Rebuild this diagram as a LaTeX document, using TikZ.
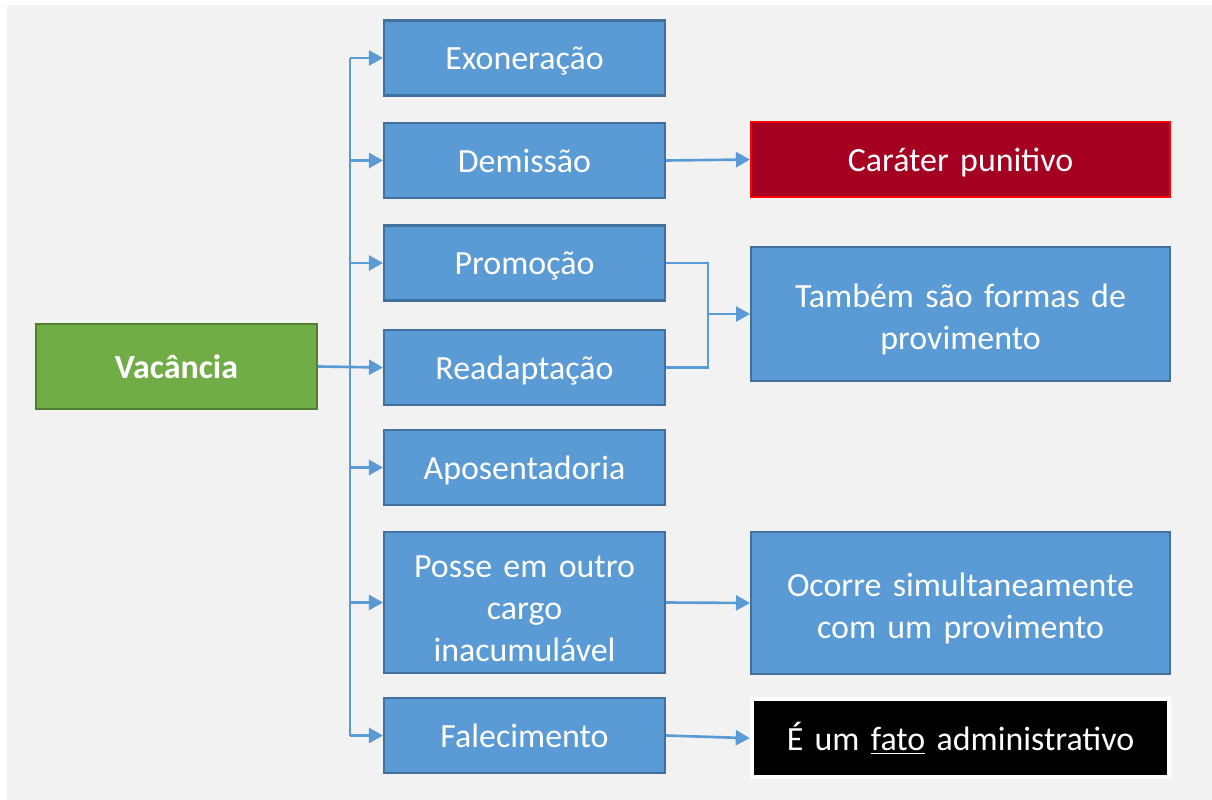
\documentclass[tikz,border=0pt]{standalone}
\usepackage{fontspec}
\setmainfont{Carlito}
\usetikzlibrary{arrows.meta}
\definecolor{fundo}{HTML}{F2F2F2}
\definecolor{azul}{HTML}{5B9BD5}
\definecolor{azulborda}{HTML}{41719C}
\definecolor{verde}{HTML}{70AD47}
\definecolor{verdeborda}{HTML}{507E32}
\definecolor{vinho}{HTML}{A50021}
\begin{document}
\begin{tikzpicture}[
    x=0.02cm, y=-0.02cm,
    caixa/.style={rectangle, draw=azulborda, line width=1.2pt, fill=azul, text=white, text width=5.3cm, align=center, inner sep=0pt, minimum width=5.62cm, minimum height=1.5cm, font=\fontsize{19.3}{24}\selectfont, execute at begin node={\rule[-0.21cm]{0pt}{0.9cm}}},
    larga/.style={caixa, text width=8cm, minimum width=8.38cm},
    raiz/.style={caixa, draw=verdeborda, fill=verde, minimum height=1.7cm, font=\fontsize{19.3}{24}\selectfont\bfseries},
    linha/.style={draw=azul, line width=1.5pt},
    seta/.style={linha, -{Triangle[length=0.28cm, width=0.3cm]}}
]

% Fundo
\useasboundingbox (0,0) rectangle (1212,800);
\fill[white] (0,0) rectangle (1212,800);
\fill[fundo] (7,5) rectangle (1212,800);

% Raiz
\node[raiz] (vac) at (176.5,366.5) {Vacância};

% Formas de vacancia (coluna central)
\node[caixa] (exo) at (524.5,58) {Exoneração};
\node[caixa] (dem) at (524.5,160.5) {Demissão};
\node[caixa] (pro) at (524.5,263) {Promoção};
\node[caixa] (rea) at (524.5,367.5) {Readaptação};
\node[caixa] (apo) at (524.5,467.5) {Aposentadoria};
\node[caixa, minimum height=2.82cm] (pos) at (524.5,602.5) {Posse em outro\\cargo\\inacumulável};
\node[caixa] (fal) at (524.5,735.5) {Falecimento};

% Observacoes (coluna direita)
\node[larga, draw=red, fill=vinho] (car) at (960.5,159.5) {Caráter punitivo};
\node[larga, minimum height=2.68cm] (tam) at (960.5,314) {Também são formas de\\provimento};
\node[larga, minimum height=2.84cm] (oco) at (960.5,603) {Ocorre simultaneamente\\com um provimento};
\node[larga, draw=white, line width=2.3pt, fill=black, minimum width=8.35cm, minimum height=1.56cm] (fato) at (960.5,738.2) {É um \underline{fato} administrativo};

% Tronco
\coordinate (tr) at (350,367);
\draw[linha] (exo.west -| tr) -- (fal.west -| tr);
\draw[seta] (vac.east) -- (rea.west);
\draw[seta] (exo.west -| tr) -- (exo.west);
\draw[seta] (dem.west -| tr) -- (dem.west);
\draw[seta] (pro.west -| tr) -- (pro.west);
\draw[seta] (apo.west -| tr) -- (apo.west);
\draw[seta] (pos.west -| tr) -- (pos.west);
\draw[seta] (fal.west -| tr) -- (fal.west);

% Ligacoes a direita
\coordinate (jun) at (708,314);
\draw[seta] (dem.east) -- (car.west);
\draw[linha] (pro.east) -| (jun);
\draw[linha] (rea.east) -| (jun);
\draw[seta] (jun) -- (tam.west);
\draw[seta] (pos.east) -- (oco.west);
\draw[seta] (fal.east) -- (fato.west);

\end{tikzpicture}
\end{document}
